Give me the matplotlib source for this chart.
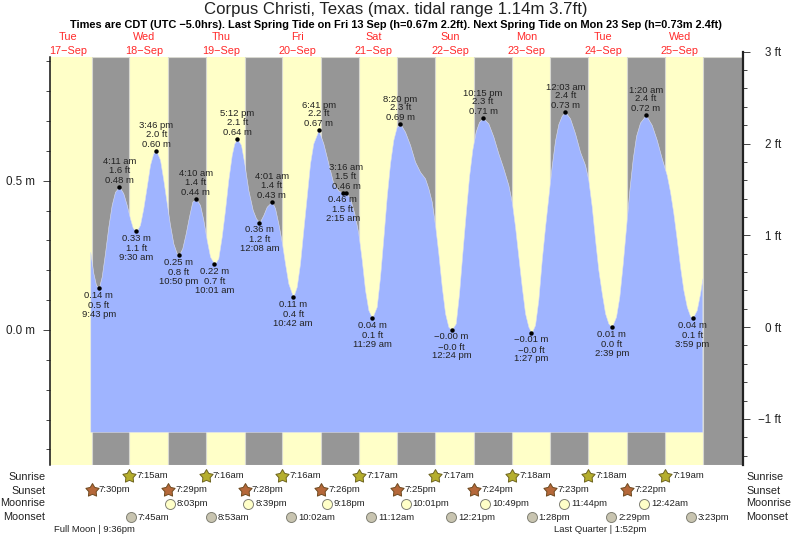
import matplotlib
matplotlib.use('Agg')
import matplotlib.pyplot as plt
from matplotlib.path import Path

plt.rcParams['font.family'] = ['Liberation Sans', 'DejaVu Sans']

# hours counted from 17-Sep 00:00, heights in metres
curveHours = [19.07, 20.01, 20.86, 21.72, 22.65, 23.68, 24.72, 25.78, 26.82, 28.18, 29.42, 30.49, 31.52, 32.37, 33.5,
              34.66, 35.70, 36.76, 37.80, 38.83, 39.77, 40.94, 41.97, 43.04, 44.07, 45.11, 46.17, 46.83, 47.93, 49.0,
              50.03, 51.07, 52.17, 53.48, 54.52, 55.58, 56.62, 58.02, 59.22, 60.29, 61.32, 62.36, 63.43, 64.24, 65.2,
              66.34, 67.38, 68.63, 70.01, 71.05, 72.13, 73.34, 74.41, 76.02, 77.01, 78.04, 79.11, 80.14, 81.18, 82.7,
              83.82, 84.85, 85.89, 86.95, 87.99, 89.02, 90.68, 92.16, 93.73, 95.30, 96.86, 98.25, 99.27, 100.53,
              101.88, 103.14, 104.20, 105.24, 106.28, 107.48, 108.91, 109.95, 110.98, 112.05, 113.08, 114.12, 115.18,
              116.33, 117.79, 119.36, 120.92, 122.49, 124.06, 125.10, 126.16, 127.20, 128.23, 129.30, 130.34, 131.37,
              132.4, 133.69, 134.73, 135.76, 136.83, 137.86, 138.90, 139.96, 141.0, 142.25, 143.92, 145.49, 147.05,
              148.62, 150.19, 151.26, 152.29, 153.33, 154.39, 155.43, 156.47, 157.45, 158.57, 159.60, 160.67, 161.70,
              162.74, 163.80, 164.84, 165.88, 166.94, 168.05, 169.54, 171.11, 172.68, 174.25, 175.28, 176.35, 177.39,
              178.42, 179.49, 180.53, 181.56, 182.65, 183.98, 185.01, 186.08, 187.12, 188.15, 189.22, 190.25, 191.50,
              193.33, 195.17, 196.74, 198.31, 199.88, 200.91, 201.95, 203.02, 204.05, 205.09, 206.16, 207.19, 207.98,
              209.29, 210.33, 211.05]
curveHeights = [0.262, 0.191, 0.151, 0.14, 0.179, 0.258, 0.346, 0.419, 0.463, 0.48, 0.458, 0.419, 0.374, 0.343, 0.33,
                0.352, 0.408, 0.480, 0.553, 0.592, 0.60, 0.570, 0.503, 0.425, 0.352, 0.290, 0.257, 0.25, 0.274, 0.324,
                0.380, 0.430, 0.44, 0.419, 0.369, 0.302, 0.246, 0.22, 0.240, 0.313, 0.402, 0.503, 0.586, 0.625, 0.64,
                0.620, 0.558, 0.469, 0.402, 0.374, 0.36, 0.385, 0.413, 0.43, 0.408, 0.357, 0.296, 0.223, 0.156, 0.11,
                0.145, 0.223, 0.335, 0.447, 0.558, 0.625, 0.67, 0.625, 0.558, 0.491, 0.467, 0.46, 0.46, 0.441,
                0.391, 0.324, 0.235, 0.134, 0.067, 0.04, 0.078, 0.179, 0.307, 0.447, 0.558, 0.637, 0.681,
                0.69, 0.664, 0.620, 0.564, 0.530, 0.508, 0.475, 0.430, 0.352, 0.257, 0.145, 0.056, 0.011,
                0.0, 0.022, 0.123, 0.257, 0.391, 0.514, 0.605, 0.665, 0.697, 0.71, 0.692, 0.648, 0.592,
                0.542, 0.486, 0.430, 0.346, 0.246, 0.145, 0.056, 0.011, -0.01, 0.017, 0.101, 0.235, 0.345,
                0.447, 0.55, 0.635, 0.69, 0.718, 0.73, 0.709, 0.659, 0.597, 0.553, 0.503, 0.413, 0.302,
                0.201, 0.123, 0.056, 0.022, 0.01, 0.045, 0.112, 0.223, 0.346, 0.469, 0.575, 0.65, 0.695,
                0.72, 0.687, 0.637, 0.575, 0.519, 0.463, 0.391, 0.302, 0.212, 0.134, 0.078, 0.047, 0.04,
                0.067, 0.123, 0.173]

tideHours = [21.72, 28.18, 33.5, 39.77, 46.83, 52.17, 58.02, 65.2, 72.13, 76.02, 82.7, 90.68, 98.25, 99.27, 107.48,
             116.33, 132.4, 142.25, 157.45, 168.05, 182.65, 193.33, 207.98]
tideHeights = [0.14, 0.48, 0.33, 0.60, 0.25, 0.44, 0.22, 0.64, 0.36, 0.43, 0.11, 0.67, 0.46, 0.46, 0.04,
               0.69, 0.0, 0.71, -0.01, 0.73, 0.01, 0.72, 0.04]
tideMetres = ['0.14 m', '0.48 m', '0.33 m', '0.60 m', '0.25 m', '0.44 m', '0.22 m', '0.64 m', '0.36 m', '0.43 m',
              '0.11 m', '0.67 m', '0.46 m', '0.46 m', '0.04 m', '0.69 m', '\u22120.00 m', '0.71 m', '\u22120.01 m',
              '0.73 m', '0.01 m', '0.72 m', '0.04 m']
tideFeet = ['0.5 ft', '1.6 ft', '1.1 ft', '2.0 ft', '0.8 ft', '1.4 ft', '0.7 ft', '2.1 ft', '1.2 ft', '1.4 ft',
            '0.4 ft', '2.2 ft', '1.5 ft', '1.5 ft', '0.1 ft', '2.3 ft', '\u22120.0 ft', '2.3 ft', '\u22120.0 ft',
            '2.4 ft', '0.0 ft', '2.4 ft', '0.1 ft']
tideTimes = ['9:43 pm', '4:11 am', '9:30 am', '3:46 pm', '10:50 pm', '4:10 am', '10:01 am', '5:12 pm', '12:08 am',
             '4:01 am', '10:42 am', '6:41 pm', '2:15 am', '3:16 am', '11:29 am', '8:20 pm', '12:24 pm', '10:15 pm',
             '1:27 pm', '12:03 am', '2:39 pm', '1:20 am', '3:59 pm']
tideIsHigh = [False, True, False, True, False, True, False, True, False, True, False, True, False, True, False,
              True, False, True, False, True, False, True, False]

dayNames = ['Tue', 'Wed', 'Thu', 'Fri', 'Sat', 'Sun', 'Mon', 'Tue', 'Wed']
dayDates = ['17\u2212Sep', '18\u2212Sep', '19\u2212Sep', '20\u2212Sep', '21\u2212Sep', '22\u2212Sep', '23\u2212Sep',
            '24\u2212Sep', '25\u2212Sep']
dayNoons = [12, 36, 60, 84, 108, 132, 156, 180, 204]

sunriseHours = [31.25, 55.27, 79.27, 103.28, 127.28, 151.3, 175.3, 199.32]
sunriseLabels = ['7:15am', '7:16am', '7:16am', '7:17am', '7:17am', '7:18am', '7:18am', '7:19am']
sunsetHours = [19.5, 43.48, 67.47, 91.43, 115.42, 139.4, 163.38, 187.37]
sunsetLabels = ['7:30pm', '7:29pm', '7:28pm', '7:26pm', '7:25pm', '7:24pm', '7:23pm', '7:22pm']
lastSunset = 211.35
moonriseHours = [44.05, 68.65, 93.3, 118.02, 142.82, 167.73, 192.7]
moonriseLabels = ['8:03pm', '8:39pm', '9:18pm', '10:01pm', '10:49pm', '11:44pm', '12:42am']
moonsetHours = [31.75, 56.88, 82.03, 107.2, 132.35, 157.47, 182.48, 207.38]
moonsetLabels = ['7:45am', '8:53am', '10:02am', '11:12am', '12:21pm', '1:28pm', '2:29pm', '3:23pm']

W, H = 793.0, 539.0
TEXTCOL = '#222222'
YELLOW = '#ffffc8'
GREY = '#969696'
BLUE = '#9fb4ff'


def figText(x, y, s, **kw):
    # x, y in pixels from the top left of the picture
    kw.setdefault('color', TEXTCOL)
    kw.setdefault('va', 'center')
    return fig.text(x / W, 1 - y / H, s, **kw)


def rowY(y):
    return (465.3 - y) / 408.0


fig = plt.figure(figsize=(W / 100, H / 100), dpi=100)
ax = fig.add_axes([49.5 / W, (H - 465.3) / H, 693.2 / W, 408.0 / H])
ax.set_xlim(6.27, 223.7)
ax.set_ylim(-0.4533, 0.9136)
ax.set_facecolor(YELLOW)

# day and night bands
nightStarts = sunsetHours + [lastSunset]
nightEnds = sunriseHours + [223.7]
for i in range(len(nightStarts)):
    ax.axvspan(nightStarts[i], nightEnds[i], facecolor=GREY, edgecolor='#d8d8d0', lw=0.8, zorder=1)

ax.fill_between(curveHours, -0.341, curveHeights, facecolor=BLUE, edgecolor='#dde0f0', lw=0.4, zorder=2)
ax.plot(tideHours, tideHeights, 'o', color='black', ms=3.2, mew=0, zorder=4)

# tide labels, metres next to the dot
for i in range(len(tideHours)):
    if tideIsHigh[i]:
        offsets = [6.5, 16.5, 25.0]
    else:
        offsets = [-7.0, -17.3, -26.0]
    lines = [tideMetres[i], tideFeet[i], tideTimes[i]]
    for j in range(3):
        ax.annotate(lines[j], (tideHours[i], tideHeights[i]), xytext=(0, offsets[j] * 0.72),
                    textcoords='offset points', ha='center', va='center', fontsize=6.8,
                    color=TEXTCOL, zorder=5, annotation_clip=False)

# left axis in metres
for side in ['top', 'right', 'bottom']:
    ax.spines[side].set_visible(False)
ax.spines['left'].set_linewidth(1.1)
ax.spines['left'].set_color('#111111')
ax.set_xticks([])
ax.set_yticks([0.0, 0.5])
ax.set_yticklabels(['0.0 m', '0.5 m'], fontsize=8.4, color=TEXTCOL)
ax.set_yticks([-0.4, -0.3, -0.2, -0.1, 0.1, 0.2, 0.3, 0.4, 0.6, 0.7, 0.8, 0.9], minor=True)
ax.tick_params(axis='y', which='major', length=5, width=0.7, color='#444444', pad=5.7)
ax.tick_params(axis='y', which='minor', length=3, width=0.7, color='#444444')

# right axis in feet, sticks out a little above the bands
axFt = fig.add_axes([49.5 / W, (H - 465.3) / H, 693.2 / W, 413.6 / H])
axFt.patch.set_visible(False)
axFt.set_ylim(-1.505, 3.0)
for side in ['top', 'left', 'bottom']:
    axFt.spines[side].set_visible(False)
axFt.spines['right'].set_linewidth(1.6)
axFt.spines['right'].set_color('#222222')
axFt.set_xticks([])
axFt.yaxis.tick_right()
axFt.set_yticks([-1, 0, 1, 2, 3])
axFt.set_yticklabels(['\u22121 ft', '0 ft', '1 ft', '2 ft', '3 ft'], fontsize=8.4, color=TEXTCOL, ha='right')
axFt.set_yticks([-1.4, -1.2, -0.8, -0.6, -0.4, -0.2, 0.2, 0.4, 0.6, 0.8, 1.2, 1.4, 1.6, 1.8, 2.2, 2.4, 2.6, 2.8],
                minor=True)
axFt.tick_params(axis='y', which='major', length=5, width=0.7, color='#444444', pad=22.7)
axFt.tick_params(axis='y', which='minor', length=3, width=0.7, color='#444444')

# titles and day names
figText(395.5, 9.5, 'Corpus Christi, Texas (max. tidal range 1.14m 3.7ft)', ha='center', fontsize=12.05)
figText(396, 25, 'Times are CDT (UTC \u22125.0hrs). Last Spring Tide on Fri 13 Sep (h=0.67m 2.2ft). '
        'Next Spring Tide on Mon 23 Sep (h=0.73m 2.4ft)', ha='center', fontsize=7.88, fontweight='bold', color='black')
xform = ax.get_xaxis_transform()
for i in range(len(dayNames)):
    ax.text(dayNoons[i], rowY(37.5), dayNames[i], transform=xform, ha='center', va='center', fontsize=7.8,
            color='#ff2a2a', clip_on=False)
    ax.text(dayNoons[i], rowY(50.5), dayDates[i], transform=xform, ha='center', va='center', fontsize=7.8,
            color='#ff2a2a', clip_on=False)

# sun and moon rows
rowNames = ['Sunrise', 'Sunset', 'Moonrise', 'Moonset']
rowPixels = [476.5, 490.5, 503.5, 517]
for i in range(4):
    figText(45.5, rowPixels[i], rowNames[i], ha='right', fontsize=7.8)
    figText(746.5, rowPixels[i], rowNames[i], ha='left', fontsize=7.8)

fatStar = Path.unit_regular_star(5, innerCircle=0.55)


def drawRow(hours, labels, y, marker, size, face, edge, gap):
    ax.plot(hours, [rowY(y)] * len(hours), ls='none', marker=marker, transform=xform, ms=size, mfc=face, mec=edge,
            mew=0.7, clip_on=False, zorder=6)
    for i in range(len(hours)):
        ax.annotate(labels[i], (hours[i], rowY(y)), xycoords=xform, xytext=(gap, 0), textcoords='offset points',
                    ha='left', va='center', fontsize=6.8, color=TEXTCOL, annotation_clip=False)


drawRow(sunriseHours, sunriseLabels, 475.5, fatStar, 10, '#b5ae2d', '#6e6420', 5.2)
drawRow(sunsetHours, sunsetLabels, 489.5, fatStar, 10, '#b5683a', '#6e4a20', 5.2)
drawRow(moonriseHours, moonriseLabels, 503.5, 'o', 7.2, '#ffffc8', '#808074', 5.0)
drawRow(moonsetHours, moonsetLabels, 517, 'o', 7.2, '#c8c4b0', '#808074', 5.0)

figText(54, 530, 'Full Moon | 9:36pm', ha='left', fontsize=6.8)
figText(553.5, 530, 'Last Quarter | 1:52pm', ha='left', fontsize=6.8)

fig.savefig('out.png', dpi=100)
